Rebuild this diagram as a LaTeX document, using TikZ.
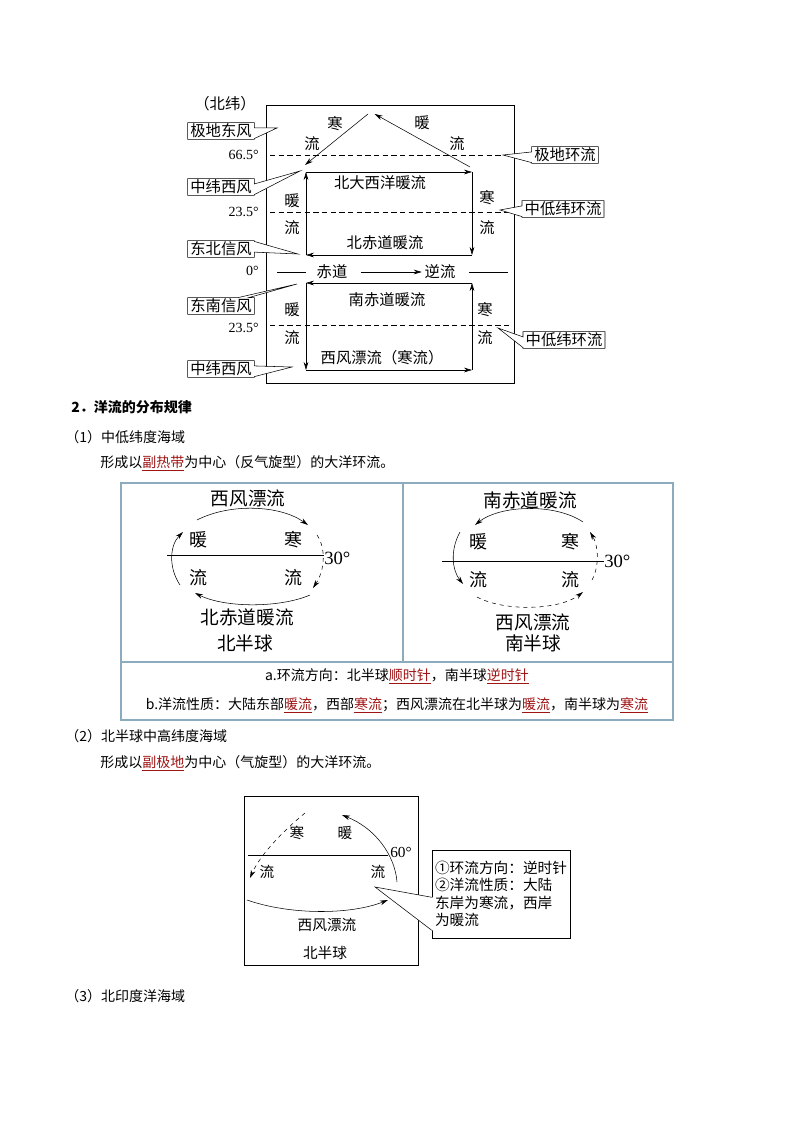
\documentclass[tikz,border=0pt]{standalone}
\usepackage{fontspec}
\setmainfont{Liberation Serif}
\newfontfamily\cjk{Noto Sans CJK SC}
\usepackage{xcolor}
\usetikzlibrary{shapes.callouts,arrows.meta,calc}
\definecolor{hlred}{RGB}{160,20,20}
\definecolor{tblue}{RGB}{140,172,190}
\newcommand\redu[1]{\textcolor{hlred}{\underline{#1}}}

\begin{document}
\begin{tikzpicture}[x=0.75pt,y=-0.75pt,
    lbl/.style={font=\cjk\fontsize{11.5}{12}\selectfont, inner sep=0pt},
    deg/.style={font=\fontsize{10.5}{12}\selectfont, inner sep=0pt, anchor=east},
    tagbox/.style={rectangle callout, draw, fill=white, font=\cjk\fontsize{11.5}{12}\selectfont,
      inner xsep=2pt, inner ysep=1pt, callout pointer width=8pt},
    flow/.style={-{Stealth[length=6pt,width=3.5pt]}},
    lat/.style={dash pattern=on 4pt off 2.5pt},
    body/.style={font=\cjk\fontsize{10.5}{13}\selectfont, inner sep=0pt, anchor=west},
    big/.style={font=\cjk\fontsize{14}{16}\selectfont, inner sep=0pt},
    mid/.style={font=\cjk\fontsize{11}{13}\selectfont, inner sep=0pt},
    gyre/.style={font=\cjk\fontsize{13.5}{15}\selectfont, inner sep=0pt},
    num/.style={font=\fontsize{14}{16}\selectfont, inner sep=0pt, anchor=west}
  ]
    \useasboundingbox (0,0) rectangle (794,1123);

    % ---- ocean current model, northern latitudes
    \draw (266,105) rectangle (514,383);
    \node [lbl] (lat) at (225,104) {（北纬）};

    \node [deg] (d665) at (259,155) {66.5°};
    \node [deg] (d235n) at (259,212) {23.5°};
    \node [deg] (d0) at (259,271) {0°};
    \node [deg] (d235s) at (259,328) {23.5°};

    \draw [lat] (270,155) -- (505,155);
    \draw [lat] (270,212) -- (510,212);
    \draw [lat] (270,325) -- (510,325);

    \node [tagbox, callout absolute pointer={(277,128)}] (polarE) at (221,131) {极地东风};
    \node [tagbox, callout absolute pointer={(300,171)}] (westN) at (221,187) {中纬西风};
    \node [tagbox, callout absolute pointer={(298,254)}] (tradeNE) at (221,249) {东北信风};
    \node [tagbox, callout absolute pointer={(297,284)}] (tradeSE) at (221,306) {东南信风};
    \node [tagbox, callout absolute pointer={(292,367)}] (westS) at (221,369) {中纬西风};
    \node [tagbox, callout absolute pointer={(503,155)}] (polarCell) at (565,155) {极地环流};
    \node [tagbox, callout absolute pointer={(500,210)}] (lowCellN) at (563,209) {中低纬环流};
    \node [tagbox, callout absolute pointer={(498,328)}] (lowCellS) at (564,340) {中低纬环流};

    % polar loop
    \coordinate (apex) at (368,114);
    \draw [flow] (apex) -- (305,165);
    \draw [flow] (470,167) -- ([xshift=5]apex);
    \node [lbl] (pc1) at (335,124) {寒};
    \node [lbl] (pc2) at (312,144) {流};
    \node [lbl] (pw1) at (422,123) {暖};
    \node [lbl] (pw2) at (457,144) {流};

    % north loop
    \coordinate (nTL) at (306,172);
    \coordinate (nTR) at (472,172);
    \coordinate (nBR) at (472,255);
    \coordinate (nBL) at (306,255);
    \draw [flow] (nTL) -- (nTR);
    \draw [flow] (nTR) -- (nBR);
    \draw [flow] (nBR) -- (nBL);
    \draw [flow] (nBL) -- (nTL);
    \node [lbl] (nad) at (380,183) {北大西洋暖流};
    \node [lbl] (neq) at (385,243) {北赤道暖流};
    \node [lbl] (nw1) at (292,201) {暖};
    \node [lbl] (nw2) at (292,228) {流};
    \node [lbl] (nc1) at (487,198) {寒};
    \node [lbl] (nc2) at (487,228) {流};

    % equator
    \node [lbl] (eq) at (332,272) {赤道};
    \node [lbl] (ecc) at (440,272) {逆流};
    \draw (277,272) -- ([xshift=-8]eq.west);
    \draw [flow] ([xshift=10]eq.east) -- ([xshift=-2]ecc.west);
    \draw ([xshift=10]ecc.east) -- (508,272);

    % south loop
    \coordinate (sTL) at (306,283);
    \coordinate (sTR) at (472,283);
    \coordinate (sBR) at (472,370);
    \coordinate (sBL) at (306,370);
    \draw [flow] (sTR) -- (sTL);
    \draw [flow] (sTL) -- (sBL);
    \draw [flow] (sBL) -- (sBR);
    \draw [flow] (sBR) -- (sTR);
    \node [lbl] (seq) at (387,300) {南赤道暖流};
    \node [lbl] (swd) at (382,358) {西风漂流（寒流）};
    \node [lbl] (sw1) at (292,310) {暖};
    \node [lbl] (sw2) at (292,338) {流};
    \node [lbl] (sc1) at (485,310) {寒};
    \node [lbl] (sc2) at (485,338) {流};

    % ---- text
    \node [body, font=\cjk\bfseries\fontsize{10.5}{13}\selectfont] (h2) at (71,407) {2．洋流的分布规律};
    \node [body] (p1) at (65,437) {（1）中低纬度海域};
    \node [body] (p1a) at (100,463) {形成以\redu{副热带}为中心（反气旋型）的大洋环流。};

    % ---- table
    \draw [tblue, line width=1.2pt] (121,483) rectangle (673,720);
    \draw [tblue, line width=0.8pt] (403,483) -- (403,662);
    \draw [tblue, line width=0.8pt] (121,662) -- (673,662);

    % northern hemisphere gyre
    \node [big] (nwd) at (248,498) {西风漂流};
    \node [big] (neqc) at (247,617) {北赤道暖流};
    \node [big] (nh) at (245,643) {北半球};
    \node [gyre] (g1) at (198,540) {暖};
    \node [gyre] (g2) at (293,540) {寒};
    \node [gyre] (g3) at (198,578) {流};
    \node [gyre] (g4) at (293,578) {流};
    \node [num] (n30) at (324,558) {30°};
    \coordinate (nAxis) at (167,555);
    \draw (nAxis) -- (nAxis -| n30.west);
    \draw [flow] (197,520) .. controls (230,503) and (280,505) .. (308,525);
    \draw [flow, dashed] (317,535) .. controls (326,548) and (325,570) .. (313,588);
    \draw [flow] (310,595) .. controls (280,608) and (225,608) .. (195,593);
    \draw [flow] (180,585) .. controls (168,567) and (170,545) .. (183,532);

    % southern hemisphere gyre
    \node [big] (seqc) at (530,500) {南赤道暖流};
    \node [big] (swdc) at (533,622) {西风漂流};
    \node [big] (sh) at (533,643) {南半球};
    \node [gyre] (k1) at (478,542) {暖};
    \node [gyre] (k2) at (570,542) {寒};
    \node [gyre] (k3) at (478,580) {流};
    \node [gyre] (k4) at (570,580) {流};
    \node [num] (s30) at (604,561) {30°};
    \coordinate (sAxis) at (442,561);
    \draw (sAxis) -- (sAxis -| s30.west);
    \draw [flow] (583,522) .. controls (555,503) and (500,505) .. (475,525);
    \draw [flow] (460,532) .. controls (450,550) and (452,570) .. (463,584);
    \draw [flow, dashed] (477,597) .. controls (505,612) and (560,610) .. (583,592);
    \draw [flow, dashed] (592,580) .. controls (600,565) and (598,545) .. (590,532);

    \node [body, anchor=center] (ra) at (397,676) {a.环流方向：北半球\redu{顺时针}，南半球\redu{逆时针}};
    \node [body, anchor=center] (rb) at (397,705) {b.洋流性质：大陆东部\redu{暖流}，西部\redu{寒流}；西风漂流在北半球为\redu{暖流}，南半球为\redu{寒流}};

    \node [body] (p2) at (65,736) {（2）北半球中高纬度海域};
    \node [body] (p2a) at (100,763) {形成以\redu{副极地}为中心（气旋型）的大洋环流。};

    % ---- subpolar gyre
    \draw (244,796) rectangle (418,965);
    \node [num, font=\fontsize{11.5}{13}\selectfont] (n60) at (390,852) {60°};
    \draw (248,855) -- (388,855);
    \draw [flow, dashed] (305,813) .. controls (282,832) and (260,855) .. (250,878);
    \draw [flow] (397,882) .. controls (395,855) and (375,828) .. (342,815);
    \draw [flow] (247,900) .. controls (290,915) and (350,915) .. (388,900);
    \node [mid] (q1) at (297,833) {寒};
    \node [mid] (q2) at (345,833) {暖};
    \node [mid] (q3) at (267,872) {流};
    \node [mid] (q4) at (378,872) {流};
    \node [mid] (qwd) at (327,925) {西风漂流};
    \node [mid] (qnh) at (325,953) {北半球};

    \node [draw, fill=white, font=\cjk\fontsize{11}{13.1}\selectfont, text width=99pt, align=left,
      inner xsep=2.25pt, minimum height=66pt] (note) at (501,894)
      {①环流方向：逆时针\\②洋流性质：大陆\\东岸为寒流，西岸\\为暖流};
    \coordinate (tip) at (375,887);
    \coordinate (wa) at ($(note.south west)+(0,-8)$);
    \coordinate (wb) at ($(note.south west)+(0,-41)$);
    \fill [white] (wa) -- (tip) -- (wb) -- ([xshift=2]wb) -- ([xshift=2]wa) -- cycle;
    \draw (wa) -- (tip) -- (wb);

    \node [body] (p3) at (65,996) {（3）北印度洋海域};
  \end{tikzpicture}
\end{document}
